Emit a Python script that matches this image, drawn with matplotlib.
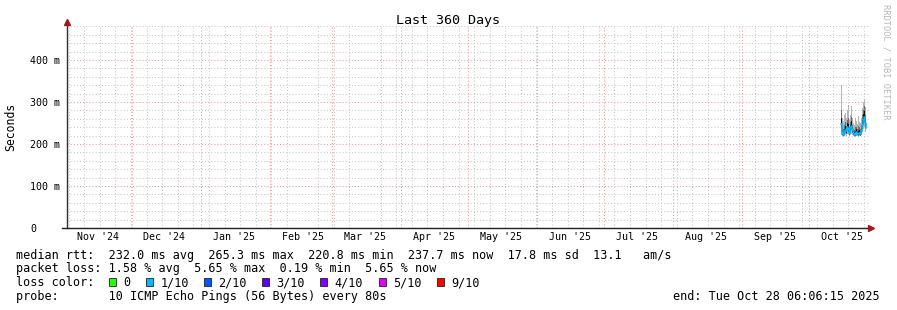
import datetime as dt
import numpy as np
import pandas as pd
import matplotlib
matplotlib.use("Agg")
import matplotlib.pyplot as plt
import matplotlib.dates as mdates
from matplotlib.patches import Rectangle

# ----------------------------- data ------------------------------------------
END = dt.datetime(2025, 10, 28, 6, 6, 15)
START = END - dt.timedelta(days=360)

# samples only exist for the last ~12 days of the window
times = pd.date_range("2025-10-15 15:00", "2025-10-26 20:00", periods=26).to_pydatetime()

median = [248, 226, 222, 228, 234, 230, 241, 236, 227, 239, 244, 233, 226,
          224, 222, 229, 225, 223, 227, 224, 231, 246, 258, 265, 250, 238]
# smoke bands (ms): outer = min/max ping, then two inner quantile bands
ping_lo1 = [222, 218, 216, 219, 222, 220, 224, 223, 219, 222, 225, 221, 218,
            217, 216, 219, 218, 217, 219, 218, 221, 228, 236, 240, 229, 224]
ping_hi1 = [340, 262, 255, 268, 275, 262, 280, 292, 258, 270, 290, 262, 250,
            246, 262, 255, 248, 266, 252, 250, 262, 285, 300, 307, 288, 270]
ping_lo2 = [232, 221, 219, 223, 227, 225, 231, 229, 222, 228, 233, 226, 221,
            220, 218, 223, 221, 219, 222, 220, 225, 236, 246, 251, 239, 230]
ping_hi2 = [280, 240, 236, 245, 252, 242, 258, 262, 240, 252, 265, 246, 236,
            234, 240, 240, 236, 242, 240, 236, 246, 268, 282, 290, 270, 252]
ping_lo3 = [240, 223, 220, 225, 230, 227, 236, 232, 224, 233, 238, 229, 223,
            222, 220, 226, 223, 221, 224, 222, 228, 241, 252, 258, 244, 234]
ping_hi3 = [262, 232, 228, 236, 242, 236, 250, 248, 233, 246, 254, 240, 231,
            229, 230, 235, 230, 232, 233, 230, 238, 258, 272, 278, 260, 246]

y_major = [0, 100, 200, 300, 400]
y_labels = ["0", "100 m", "200 m", "300 m", "400 m"]

loss_labels = ["0", "1/10", "2/10", "3/10", "4/10", "5/10", "9/10"]
loss_colors = ["#26ff00", "#00b8ff", "#0059ff", "#5e00ff", "#7e00ff", "#dd00ff", "#ff0000"]

legend_rows = [
    "median rtt:  232.0 ms avg  265.3 ms max  220.8 ms min  237.7 ms now  17.8 ms sd  13.1   am/s",
    "packet loss: 1.58 % avg  5.65 % max  0.19 % min  5.65 % now",
    "loss color:",
    "probe:       10 ICMP Echo Pings (56 Bytes) every 80s",
]

# ----------------------------- figure ----------------------------------------
W, H = 897, 310
MONO = "DejaVu Sans Mono"
plt.rcParams["font.family"] = MONO

fig = plt.figure(figsize=(W / 100, H / 100), dpi=100)
L, R, T, B = 67, 869, 26.4, 228
ax = fig.add_axes([L / W, 1 - B / H, (R - L) / W, (B - T) / H])
ax.set_xlim(START, END)
ax.set_ylim(0, 480)
for s in ax.spines.values():
    s.set_visible(False)

grid_gray = "#c8c8c8"
grid_red = "#f29a9a"
dots = (0, (1, 2))

# horizontal grid
ax.set_yticks(y_major)
ax.set_yticklabels(y_labels)
ax.set_yticks(np.arange(20, 481, 20), minor=True)
ax.grid(axis="y", which="minor", color=grid_gray, lw=0.75, ls=dots, zorder=0)
ax.grid(axis="y", which="major", color=grid_red, lw=0.75, ls=dots, zorder=0.5)

# vertical grid: weeks (gray), months (red), labels centred mid-month
ax.xaxis.set_minor_locator(mdates.WeekdayLocator(byweekday=mdates.SU))
ax.xaxis.set_major_locator(mdates.MonthLocator(bymonthday=16))
ax.xaxis.set_major_formatter(mdates.DateFormatter("%b '%y"))
ax.grid(axis="x", which="minor", color=grid_gray, lw=0.75, ls=dots, zorder=0)
for m in pd.date_range(START, END, freq="MS").to_pydatetime():
    ax.axvline(m, color=grid_red, lw=0.75, ls=dots, zorder=0.5)

ax.tick_params(axis="both", which="both", length=0)
ax.tick_params(axis="x", labelsize=7.2, pad=3.2, colors="black")
ax.tick_params(axis="y", labelsize=7.2, pad=26.6)
for lbl in ax.get_yticklabels():
    lbl.set_horizontalalignment("left")

# smoke + median (one rrd row per step)
ax.fill_between(times, ping_lo1, ping_hi1, step="post", color="#b4b4b4", lw=0, zorder=2)
ax.fill_between(times, ping_lo2, ping_hi2, step="post", color="#6e6e6e", lw=0, zorder=2.1)
ax.fill_between(times, ping_lo3, ping_hi3, step="post", color="#141414", lw=0, zorder=2.2)
ax.plot(times, median, drawstyle="steps-post", color=loss_colors[1], lw=1.1, zorder=3)

# axes with arrows
ax.plot([0, 0], [0, 1.012], transform=ax.transAxes, color="#303030", lw=1, clip_on=False, zorder=4)
ax.plot([-5 / (R - L), 1.0], [0, 0], transform=ax.transAxes, color="#202020", lw=1, clip_on=False, zorder=4)
ax.plot([0], [1.02], marker="^", ms=5, color="#a01818", transform=ax.transAxes, clip_on=False, zorder=5)
ax.plot([1.003], [0], marker=">", ms=5, color="#a01818", transform=ax.transAxes, clip_on=False, zorder=5)

ax.set_ylabel("Seconds", fontsize=8.3)
ax.yaxis.set_label_coords((11 - L) / (R - L), 0.5)
ax.yaxis.label.set_va("center")

# title + watermark
fig.text(448 / W, 1 - 24.3 / H, "Last 360 Days", ha="center", va="baseline", fontsize=9.6)
fig.text(886 / W, 1 - 4 / H, "RRDTOOL / TOBI OETIKER", rotation=270, ha="center", va="top",
         fontsize=6.2, color="#b8b8b8")

# legend rows
fs = 8.45
cw = 7.05
baselines = [258.5, 272.2, 286.0, 299.7]
for row, yb in zip(legend_rows, baselines):
    fig.text(16 / W, 1 - yb / H, row, ha="left", va="baseline", fontsize=fs)

bx = 108.7
for lab, col in zip(loss_labels, loss_colors):
    fig.patches.append(Rectangle((bx / W, 1 - 286.2 / H), 7 / W, 8 / H, transform=fig.transFigure,
                                 facecolor=col, edgecolor="#202020", lw=0.6))
    tx = bx + 14.5
    fig.text(tx / W, 1 - baselines[2] / H, lab, ha="left", va="baseline", fontsize=fs)
    bx = tx + len(lab) * cw + 15.5

fig.text(880 / W, 1 - baselines[3] / H, "end: Tue Oct 28 06:06:15 2025", ha="right",
         va="baseline", fontsize=fs)

fig.savefig("out.png", dpi=100)
